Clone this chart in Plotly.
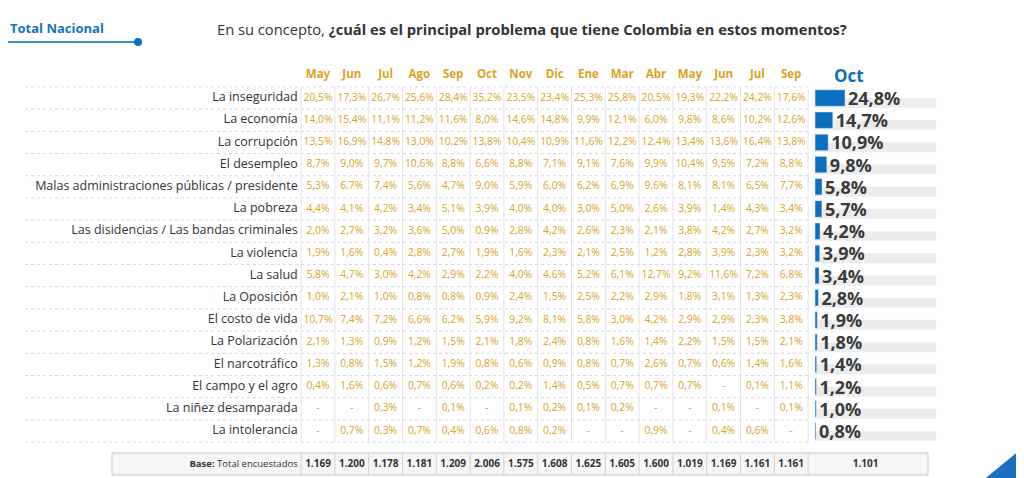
import plotly.graph_objects as go

months = ["May", "Jun", "Jul", "Ago", "Sep", "Oct", "Nov", "Dic", "Ene", "Mar", "Abr", "May", "Jun", "Jul", "Sep"]
problems = [
    "La inseguridad", "La economía", "La corrupción", "El desempleo",
    "Malas administraciones públicas / presidente", "La pobreza",
    "Las disidencias / Las bandas criminales", "La violencia", "La salud",
    "La Oposición", "El costo de vida", "La Polarización", "El narcotráfico",
    "El campo y el agro", "La niñez desamparada", "La intolerancia",
]
history = [
    ["20,5%", "17,3%", "26,7%", "25,6%", "28,4%", "35,2%", "23,5%", "23,4%", "25,3%", "25,8%", "20,5%", "19,3%", "22,2%", "24,2%", "17,6%"],
    ["14,0%", "15,4%", "11,1%", "11,2%", "11,6%", "8,0%", "14,6%", "14,8%", "9,9%", "12,1%", "6,0%", "9,8%", "8,6%", "10,2%", "12,6%"],
    ["13,5%", "16,9%", "14,8%", "13,0%", "10,2%", "13,8%", "10,4%", "10,9%", "11,6%", "12,2%", "12,4%", "13,4%", "13,6%", "16,4%", "13,8%"],
    ["8,7%", "9,0%", "9,7%", "10,6%", "8,8%", "6,6%", "8,8%", "7,1%", "9,1%", "7,6%", "9,9%", "10,4%", "9,5%", "7,2%", "8,8%"],
    ["5,3%", "6,7%", "7,4%", "5,6%", "4,7%", "9,0%", "5,9%", "6,0%", "6,2%", "6,9%", "9,6%", "8,1%", "8,1%", "6,5%", "7,7%"],
    ["4,4%", "4,1%", "4,2%", "3,4%", "5,1%", "3,9%", "4,0%", "4,0%", "3,0%", "5,0%", "2,6%", "3,9%", "1,4%", "4,3%", "3,4%"],
    ["2,0%", "2,7%", "3,2%", "3,6%", "5,0%", "0,9%", "2,8%", "4,2%", "2,6%", "2,3%", "2,1%", "3,8%", "4,2%", "2,7%", "3,2%"],
    ["1,9%", "1,6%", "0,4%", "2,8%", "2,7%", "1,9%", "1,6%", "2,3%", "2,1%", "2,5%", "1,2%", "2,8%", "3,9%", "2,3%", "3,2%"],
    ["5,8%", "4,7%", "3,0%", "4,2%", "2,9%", "2,2%", "4,0%", "4,6%", "5,2%", "6,1%", "12,7%", "9,2%", "11,6%", "7,2%", "6,8%"],
    ["1,0%", "2,1%", "1,0%", "0,8%", "0,8%", "0,9%", "2,4%", "1,5%", "2,5%", "2,2%", "2,9%", "1,8%", "3,1%", "1,3%", "2,3%"],
    ["10,7%", "7,4%", "7,2%", "6,6%", "6,2%", "5,9%", "9,2%", "8,1%", "5,8%", "3,0%", "4,2%", "2,9%", "2,9%", "2,3%", "3,8%"],
    ["2,1%", "1,3%", "0,9%", "1,2%", "1,5%", "2,1%", "1,8%", "2,4%", "0,8%", "1,6%", "1,4%", "2,2%", "1,5%", "1,5%", "2,1%"],
    ["1,3%", "0,8%", "1,5%", "1,2%", "1,9%", "0,8%", "0,6%", "0,9%", "0,8%", "0,7%", "2,6%", "0,7%", "0,6%", "1,4%", "1,6%"],
    ["0,4%", "1,6%", "0,6%", "0,7%", "0,6%", "0,2%", "0,2%", "1,4%", "0,5%", "0,7%", "0,7%", "0,7%", "-", "0,1%", "1,1%"],
    ["-", "-", "0,3%", "-", "0,1%", "-", "0,1%", "0,2%", "0,1%", "0,2%", "-", "-", "0,1%", "-", "0,1%"],
    ["-", "0,7%", "0,3%", "0,7%", "0,4%", "0,6%", "0,8%", "0,2%", "-", "-", "0,9%", "-", "0,4%", "0,6%", "-"],
]
oct_values = [24.8, 14.7, 10.9, 9.8, 5.8, 5.7, 4.2, 3.9, 3.4, 2.8, 1.9, 1.8, 1.4, 1.2, 1.0, 0.8]
bases = ["1.169", "1.200", "1.178", "1.181", "1.209", "2.006", "1.575", "1.608", "1.625", "1.605", "1.600", "1.019", "1.169", "1.161", "1.161"]
oct_base = "1.101"

ORANGE = "#dca31f"
BLUE = "#0b6fc0"
DARK = "#333333"
FONT = "Open Sans"

# page has an 8px body margin, so target pixels are shifted by OFF
W, H = 1024, 478
OFF = 8
COL0, COLW = 318, 33.8
ROW0, ROWH = 98, 22.2


def px(x):
    return (x - OFF) / W


def py(y):
    return 1 - (y - OFF) / H


fig = go.Figure()

xs, ys, ts = [], [], []
for i, row in enumerate(history):
    for j, v in enumerate(row):
        xs.append(j)
        ys.append(i)
        ts.append(v)
fig.add_trace(go.Scatter(x=xs, y=ys, text=ts, mode="text",
                         textfont=dict(color=ORANGE, size=10.3, family=FONT), hoverinfo="skip"))
fig.add_trace(go.Scatter(x=list(range(len(months))), y=[-1.05] * len(months), text=[f"<b>{m}</b>" for m in months],
                         mode="text", textfont=dict(color=ORANGE, size=11.5, family=FONT), hoverinfo="skip"))
fig.add_trace(go.Scatter(x=[-0.6] * len(problems), y=list(range(len(problems))), text=problems,
                         mode="text", textposition="middle left",
                         textfont=dict(color=DARK, size=12.5, family=FONT), hoverinfo="skip"))
fig.add_trace(go.Scatter(x=list(range(len(bases))) + [16.2], y=[16.5] * (len(bases) + 1),
                         text=[f"<b>{b}</b>" for b in bases] + [f"<b>{oct_base}</b>"],
                         mode="text", textfont=dict(color=DARK, size=10, family=FONT), hoverinfo="skip"))
fig.add_trace(go.Scatter(x=[-0.6], y=[16.5], text=["<b>Base:</b> Total encuestados"], mode="text",
                         textposition="middle left", textfont=dict(color=DARK, size=9.5, family=FONT), hoverinfo="skip"))

# Oct bars with grey track
fig.add_trace(go.Bar(x=[100] * len(problems), y=[i + 0.22 for i in range(len(problems))], orientation="h",
                     width=0.42, marker=dict(color="#ececec"), xaxis="x2", yaxis="y", hoverinfo="skip"))
fig.add_trace(go.Bar(x=oct_values, y=list(range(len(problems))), orientation="h", width=0.74,
                     marker=dict(color=BLUE), xaxis="x2", yaxis="y",
                     text=[f"<b>{v:.1f}%</b>".replace(".", ",") for v in oct_values], textposition="outside",
                     constraintext="none", cliponaxis=False,
                     textfont=dict(color="#3a3a3a", size=18, family=FONT)))

shapes = []
for i in range(len(problems) + 1):
    y = ROW0 + (i - 0.5) * ROWH
    shapes.append(dict(type="line", xref="paper", yref="paper", x0=px(25), x1=px(810),
                       y0=py(y), y1=py(y), line=dict(color="#d8d8d8", width=1, dash="dot")))
for j in range(len(months) + 1):
    x = COL0 + (j - 0.5) * COLW
    shapes.append(dict(type="line", xref="paper", yref="paper", x0=px(x), x1=px(x),
                       y0=py(ROW0 - 0.5 * ROWH), y1=py(ROW0 + 15.5 * ROWH),
                       line=dict(color="#e4e4e4", width=1)))
shapes.append(dict(type="rect", xref="paper", yref="paper", x0=px(112), x1=px(928),
                   y0=py(475), y1=py(453), line=dict(color="#c8c8c8", width=1), fillcolor="#f6f6f6", layer="below"))
for j in range(len(months) + 1):
    x = COL0 + (j - 0.5) * COLW
    shapes.append(dict(type="line", xref="paper", yref="paper", x0=px(x), x1=px(x),
                       y0=py(475), y1=py(453), line=dict(color="#d0d0d0", width=1)))
shapes.append(dict(type="line", xref="paper", yref="paper", x0=px(8), x1=px(138), y0=py(42), y1=py(42),
                   line=dict(color="#3a8fd0", width=2)))
shapes.append(dict(type="circle", xref="paper", yref="paper", x0=px(134), x1=px(142), y0=py(46), y1=py(38),
                   fillcolor=BLUE, line=dict(width=0)))
shapes.append(dict(type="path", xref="paper", yref="paper",
                   path=f"M {px(976)} 0 L 1 {py(440)} L 1 0 Z", fillcolor="#1a6fc0", line=dict(width=0)))

annotations = [
    dict(text="<b>Total Nacional</b>", x=px(8), y=py(28), xref="paper", yref="paper", xanchor="left",
         yanchor="middle", showarrow=False, font=dict(color="#1a73c0", size=13, family=FONT)),
    dict(text="En su concepto, <b>¿cuál es el principal problema que tiene Colombia en estos momentos?</b>",
         x=px(215), y=py(29), xref="paper", yref="paper", xanchor="left", yanchor="middle", showarrow=False,
         font=dict(color=DARK, size=14.7, family=FONT)),
    dict(text="<b>Oct</b>", x=px(866), y=py(75), xref="paper", yref="paper", yanchor="middle", showarrow=False,
         font=dict(color=BLUE, size=17, family=FONT)),
]

fig.update_layout(
    width=W, height=H, margin=dict(l=0, r=0, t=0, b=0),
    paper_bgcolor="white", plot_bgcolor="rgba(0,0,0,0)", showlegend=False, barmode="overlay",
    xaxis=dict(range=[-(COL0 - OFF) / COLW, (W + OFF - COL0) / COLW], domain=[0, 1], visible=False),
    xaxis2=dict(range=[0, (W + OFF - 815) / 1.21], domain=[px(815), 1], anchor="y", visible=False),
    yaxis=dict(range=[(H + OFF - ROW0) / ROWH, -(ROW0 - OFF) / ROWH], visible=False),
    shapes=shapes, annotations=annotations,
)

fig.write_html("out.html")
